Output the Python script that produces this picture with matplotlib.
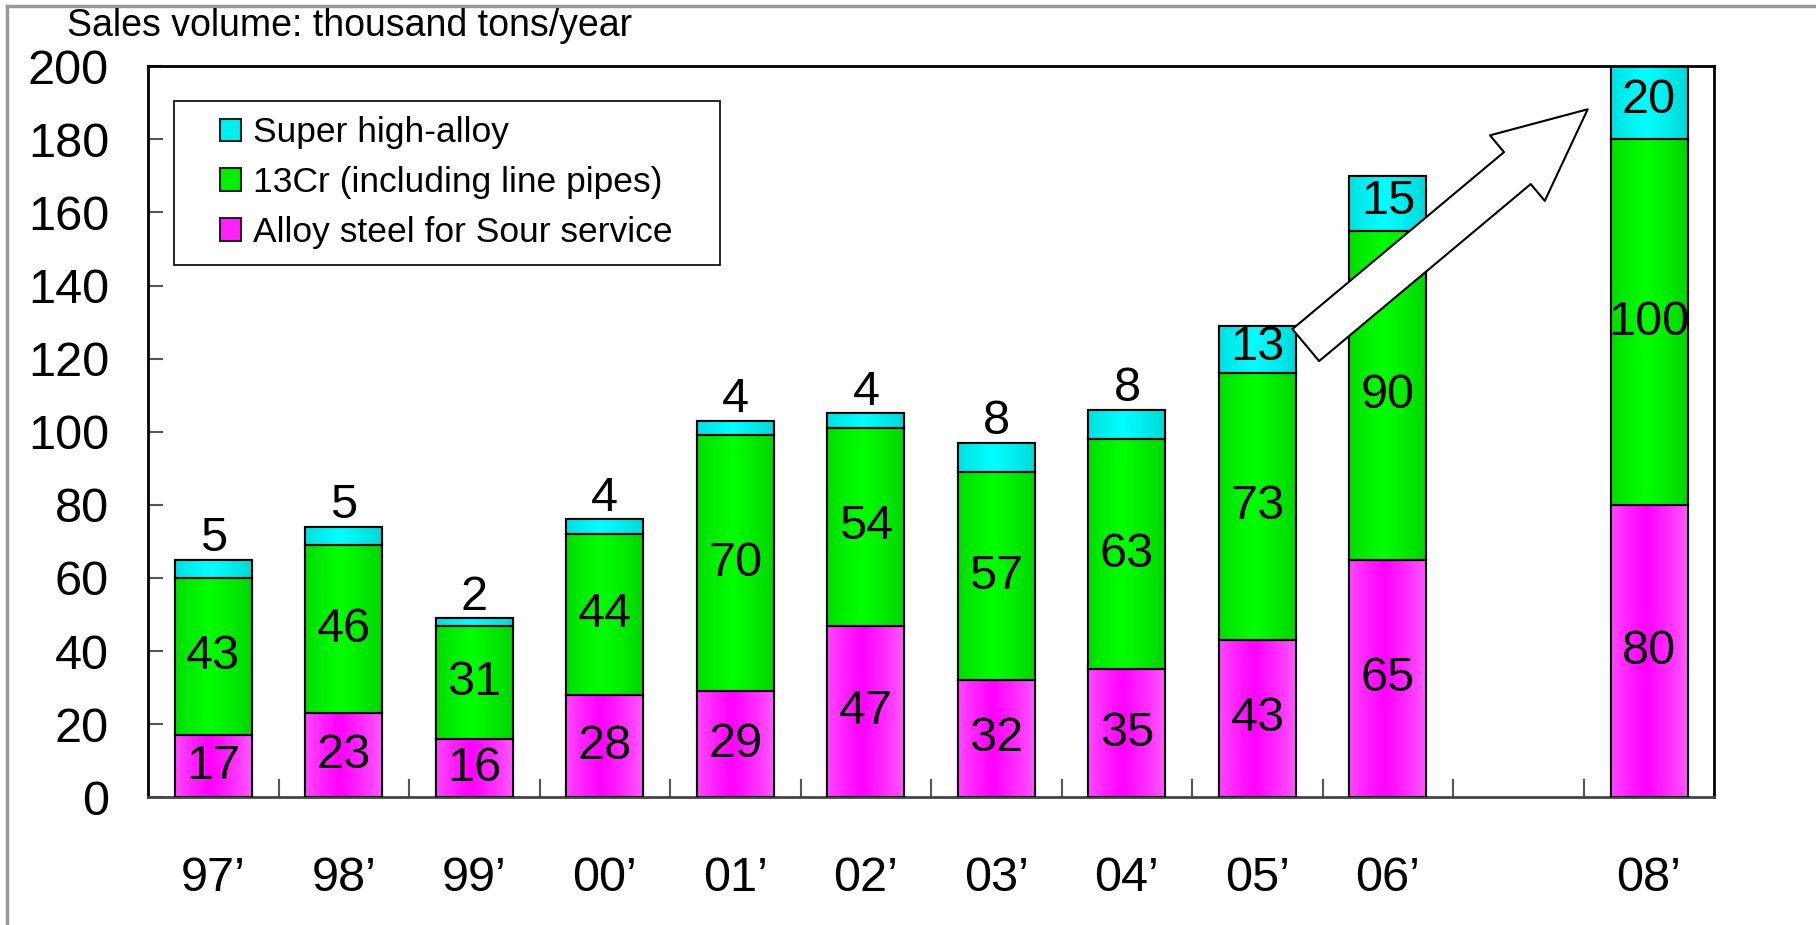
import matplotlib
matplotlib.use('Agg')
import matplotlib.pyplot as plt
from matplotlib.lines import Line2D
from matplotlib.patches import Rectangle
from matplotlib.legend_handler import HandlerPatch
from matplotlib.colors import to_rgb
import numpy as np

plt.rcParams['font.family'] = ['Liberation Sans', 'DejaVu Sans']

# data
years = ["97\u2019", "98\u2019", "99\u2019", "00\u2019", "01\u2019", "02\u2019",
         "03\u2019", "04\u2019", "05\u2019", "06\u2019", "", "08\u2019"]
slots = [0, 1, 2, 3, 4, 5, 6, 7, 8, 9, 11]
sour = [17, 23, 16, 28, 29, 47, 32, 35, 43, 65, 80]
cr13 = [43, 46, 31, 44, 70, 54, 57, 63, 73, 90, 100]
superalloy = [5, 5, 2, 4, 4, 4, 8, 8, 13, 15, 20]
super_inside = [False]*8 + [True]*3

names = ['Alloy steel for Sour service', '13Cr (including line pipes)', 'Super high-alloy']
base_cols = ['#ff22ff', '#00f000', '#00f0f0']
edge_cols = ['#ff60ff', '#00d200', '#00d4d4']
mid_cols = ['#ff00ff', '#00ff00', '#00ffff']

fig = plt.figure(figsize=(18.16, 9.25), dpi=100)
ax = fig.add_axes([0.0815, 0.138, 0.8625, 0.7905])

w = 0.59
bottom = np.zeros(len(slots))
series = [sour, cr13, superalloy]
handles = []
t = np.linspace(0, 1, 64)
prof = np.clip(1 - np.abs(t - 0.45) / 0.55, 0, 1) ** 0.8
for k, vals in enumerate(series):
    b = ax.bar(slots, vals, w, bottom=bottom, color=base_cols[k],
               edgecolor='black', linewidth=1.5, zorder=2, label=names[k])
    handles.append(b.patches[0])
    c0 = np.array(to_rgb(edge_cols[k]))
    c1 = np.array(to_rgb(mid_cols[k]))
    grad = (c0[None, :] * (1 - prof[:, None]) + c1[None, :] * prof[:, None])[None, :, :]
    for x, v, b0 in zip(slots, vals, bottom):
        ax.imshow(grad, extent=(x - w/2, x + w/2, b0, b0 + v), aspect='auto',
                  zorder=2.5, interpolation='bilinear')
    ax.bar(slots, vals, w, bottom=bottom, facecolor='none',
           edgecolor='black', linewidth=1.5, zorder=3)
    bottom = bottom + np.array(vals)

# labels
fs = 35
for i, x in enumerate(slots):
    ax.text(x, sour[i] / 2, str(sour[i]), ha='center', va='center', fontsize=fs, zorder=5)
    ax.text(x, sour[i] + cr13[i] / 2, str(cr13[i]), ha='center', va='center', fontsize=fs, zorder=5)
    top = sour[i] + cr13[i]
    if super_inside[i]:
        ax.text(x, top + superalloy[i] / 2 + 0.5, str(superalloy[i]), ha='center',
                va='center', fontsize=fs, zorder=5)
    else:
        ax.annotate(str(superalloy[i]), (x, top + superalloy[i]), xytext=(0, -1),
                    textcoords='offset points', ha='center', va='bottom',
                    fontsize=fs, zorder=5)

# arrow
ax.annotate('', xy=(10.53, 188.2), xytext=(8.37, 123.7),
            arrowprops=dict(arrowstyle='simple,head_length=2.2,head_width=2.05,tail_width=1.0',
                            mutation_scale=30, fc='white', ec='black', lw=1.5,
                            shrinkA=0, shrinkB=0),
            zorder=6)

ax.set_xlim(-0.5, 11.5)
ax.set_ylim(0, 200)
ax.set_yticks(range(0, 201, 20))
ax.set_xticks(range(12))
ax.set_xticklabels(years)
ax.set_xticks(np.arange(0.5, 11, 1), minor=True)
ax.tick_params(axis='y', direction='in', length=11, width=1.5, color='#555555',
               labelsize=35, pad=28)
ax.tick_params(axis='x', which='major', length=0, labelsize=35, pad=42)
ax.tick_params(axis='x', which='minor', direction='in', length=13, width=1.5, color='#555555')
for s in ax.spines.values():
    s.set_linewidth(2)
    s.set_color('black')
ax.spines['bottom'].set_color('#444444')


# small square swatch sitting at the right end of the handle area
def square_patch(legend, orig_handle, xdescent, ydescent, width, height, fontsize):
    sw = 0.6 * fontsize
    sh = 0.64 * fontsize
    return Rectangle((width - sw - xdescent, -ydescent + (height - sh) / 2), sw, sh)


leg = ax.legend(handles[::-1], names[::-1], loc='upper left', mode='expand',
                bbox_to_anchor=(0.0166, 0.0, 0.3487, 0.953), borderaxespad=0, fontsize=25.5,
                fancybox=False, edgecolor='black', framealpha=1,
                handlelength=1.45, handleheight=0.7, handletextpad=0.33,
                labelspacing=0.47, borderpad=0.45,
                handler_map={Rectangle: HandlerPatch(patch_func=square_patch)})
leg.get_frame().set_linewidth(1.2)
leg.set_zorder(7)
for p in leg.get_patches():
    p.set_edgecolor('#222222')
    p.set_linewidth(1.5)

fig.text(0.037, 0.972, 'Sales volume: thousand tons/year', fontsize=27, va='center', ha='left')

# outer frame
fig.add_artist(Line2D([0.004, 1.0], [0.994, 0.994], color='#999999', lw=2.5, transform=fig.transFigure))
fig.add_artist(Line2D([0.004, 0.004], [0.0, 0.994], color='#999999', lw=2.5, transform=fig.transFigure))

fig.savefig('out.png', dpi=100)
